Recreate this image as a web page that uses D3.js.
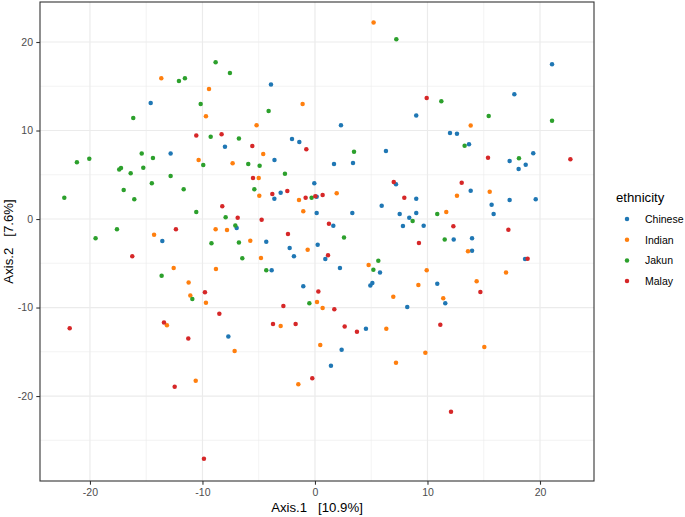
<!DOCTYPE html>
<html>
<head>
  <meta charset="utf-8">
  <title>PCoA ethnicity</title>
  <script src="https://cdn.jsdelivr.net/npm/d3@7/dist/d3.min.js"></script>
  <style>
    body { margin: 0; background: #fff; }
    text { font-family: "Liberation Sans", Arial, sans-serif; white-space: pre; }
  </style>
</head>
<body>
  <svg id="chart" width="685" height="517"></svg>
  <script>
    // points: [Axis.1, Axis.2]
    const chinese = [
      [-14.6, 13.1], [-12.83, 7.4], [-13.57, -2.49], [-3.91, 15.2], [2.31, 10.6], [-8.0, 8.17],
      [-2.04, 9.04], [-1.39, 8.7], [-3.6, 6.67], [6.31, 7.68], [1.69, 6.21], [3.38, 6.33],
      [-0.06, 4.03], [-3.05, 2.97], [-3.61, 2.3], [0.15, 2.52], [7.2, 3.92], [0.15, 0.68],
      [3.32, 0.68], [5.93, 1.5], [7.53, 0.56], [-6.96, -1.02], [1.63, -0.75], [-4.33, -2.56],
      [-2.25, -3.28], [0.24, -2.9], [-1.87, -4.22], [0.92, -4.52], [-3.85, -5.8], [2.22, -5.54],
      [5.78, -6.03], [4.92, -7.5], [5.1, -7.23], [-1.04, -7.6], [4.53, -12.4], [-7.7, -13.26],
      [2.37, -14.77], [1.42, -16.57], [17.3, 6.55], [18.73, 6.14], [18.1, 5.65], [13.84, 3.2],
      [9.0, 2.3], [15.7, 1.62], [17.3, 2.15], [19.62, 2.22], [9.0, 0.68], [8.38, 0.15],
      [15.88, 0.56], [7.82, -0.79], [9.66, -0.75], [12.33, -2.3], [13.96, -2.18], [13.96, -3.58],
      [18.67, -4.52], [10.87, -7.31], [11.58, -9.53], [8.2, -9.94], [21.07, 17.5], [17.72, 14.09],
      [9.0, 11.71], [12.0, 9.72], [12.62, 9.64], [13.69, 8.44], [19.4, 7.42]
    ];
    const indian = [
      [-13.66, 15.9], [-9.42, 14.7], [-9.69, 11.6], [-10.34, 6.67], [-14.3, -1.77], [-8.83, -1.17],
      [-12.56, -5.54], [-8.8, -5.65], [-11.23, -7.16], [-11.08, -8.63], [-9.69, -9.45], [-13.16, -12.0],
      [-10.6, -18.27], [5.21, 22.2], [-1.1, 13.0], [-5.19, 10.6], [-4.6, 7.34], [-7.32, 6.29],
      [-5.0, 4.63], [-4.95, 2.64], [-1.42, 2.15], [1.93, 2.9], [-1.04, 0.87], [-7.82, -1.24],
      [-5.75, -2.45], [-0.65, -3.46], [-4.8, -4.4], [4.77, -5.2], [6.96, -8.77], [0.18, -9.38],
      [0.68, -10.06], [-3.05, -12.1], [6.34, -12.4], [-7.14, -14.9], [0.47, -14.24], [7.2, -16.23],
      [-1.48, -18.68], [9.81, -15.1], [15.05, -14.46], [12.62, 2.64], [15.53, 3.09], [11.67, 0.79],
      [13.6, -3.65], [9.93, -5.8], [16.98, -6.03], [9.19, -7.46], [14.37, -7.04], [11.4, -8.96],
      [13.84, 10.58]
    ];
    const jakun = [
      [-8.83, 17.7], [-12.09, 15.6], [-11.56, 15.9], [-10.16, 13.0], [-16.15, 11.4], [-9.27, 9.3],
      [-15.4, 7.4], [-14.4, 6.9], [-20.06, 6.8], [-21.16, 6.4], [-9.93, 6.1], [-17.4, 5.6],
      [-17.24, 5.76], [-15.26, 5.8], [-16.38, 5.16], [-12.83, 4.86], [-14.5, 4.03], [-17.0, 3.28],
      [-11.67, 3.35], [-22.28, 2.41], [-16.06, 2.22], [-10.55, 0.79], [-17.6, -1.17], [-19.5, -2.18],
      [-9.2, -2.75], [-13.63, -6.4], [-10.9, -9.04], [7.23, 20.3], [-7.56, 16.5], [-4.12, 12.2],
      [-6.76, 9.1], [-5.93, 6.21], [-4.92, 6.02], [3.47, 7.6], [-2.67, 5.12], [-5.39, 3.35],
      [-0.3, 2.41], [-7.94, 0.19], [-7.08, -0.72], [2.58, -2.1], [-6.76, -2.64], [-6.46, -4.44],
      [-4.33, -5.8], [5.63, -4.71], [5.19, -5.73], [-0.5, -9.53], [8.68, -0.23], [10.87, 0.56],
      [11.53, -2.3], [11.23, 13.3], [15.44, 11.64], [21.07, 11.1], [13.3, 8.28], [18.13, 6.86]
    ];
    const malay = [
      [-10.55, 9.45], [-12.36, -1.17], [-16.24, -4.22], [-9.78, -8.28], [-8.5, -10.7], [-21.8, -12.35],
      [-13.42, -11.68], [-11.26, -13.5], [-12.47, -18.95], [-9.87, -27.1], [-8.3, 9.57], [-5.57, 8.25],
      [-0.77, 7.87], [-5.51, 4.63], [-3.79, 2.82], [-2.46, 3.16], [-0.83, 2.41], [0.03, 2.56],
      [0.68, 2.71], [7.0, 4.18], [-8.24, 1.43], [-6.87, 0.15], [-4.74, -0.08], [1.24, -0.53],
      [-2.4, -1.69], [1.16, -4.1], [0.3, -8.2], [-2.81, -9.83], [1.72, -10.2], [-3.73, -11.86],
      [-1.72, -11.86], [2.64, -12.13], [3.73, -12.73], [-0.24, -18.0], [11.14, -11.94], [12.09, -21.77],
      [13.04, 4.1], [7.94, 2.41], [12.3, -0.83], [17.19, -1.2], [9.24, -2.71], [18.9, -4.48],
      [14.7, -8.25], [9.93, 13.67], [15.38, 6.93], [22.7, 6.74]
    ];

    const groups = ['Chinese', 'Indian', 'Jakun', 'Malay'];
    const groupData = [chinese, indian, jakun, malay];
    const colors = ['#1f77b4', '#ff7f0e', '#2ca02c', '#d62728'];
    const xTicks = [-20, -10, 0, 10, 20];
    const yTicks = [-20, -10, 0, 10, 20];
    const xMinor = [-15, -5, 5, 15];
    const yMinor = [-25, -15, -5, 5, 15];

    const svg = d3.select('#chart');
    const pLeft = 40, pRight = 594, pTop = 2, pBottom = 481;

    const x = d3.scaleLinear().domain([-24.44, 24.8]).range([pLeft, pRight]);
    const y = d3.scaleLinear().domain([-29.6, 24.52]).range([pBottom, pTop]);
    const color = d3.scaleOrdinal().domain(groups).range(colors);

    // gridlines
    const grid = svg.append('g');
    grid.selectAll('.xminor').data(xMinor).enter().append('line')
      .attr('x1', d => x(d)).attr('x2', d => x(d)).attr('y1', pTop).attr('y2', pBottom)
      .attr('stroke', '#ebebeb').attr('stroke-width', 0.6);
    grid.selectAll('.yminor').data(yMinor).enter().append('line')
      .attr('y1', d => y(d)).attr('y2', d => y(d)).attr('x1', pLeft).attr('x2', pRight)
      .attr('stroke', '#ebebeb').attr('stroke-width', 0.6);
    grid.selectAll('.xmajor').data(xTicks).enter().append('line')
      .attr('x1', d => x(d)).attr('x2', d => x(d)).attr('y1', pTop).attr('y2', pBottom)
      .attr('stroke', '#ebebeb').attr('stroke-width', 1.2);
    grid.selectAll('.ymajor').data(yTicks).enter().append('line')
      .attr('y1', d => y(d)).attr('y2', d => y(d)).attr('x1', pLeft).attr('x2', pRight)
      .attr('stroke', '#ebebeb').attr('stroke-width', 1.2);

    // points
    groupData.forEach(function (pts, i) {
      svg.append('g').selectAll('circle').data(pts).enter().append('circle')
        .attr('cx', d => x(d[0]))
        .attr('cy', d => y(d[1]))
        .attr('r', 2.25)
        .attr('fill', color(groups[i]));
    });

    // panel border
    svg.append('rect')
      .attr('x', pLeft).attr('y', pTop)
      .attr('width', pRight - pLeft).attr('height', pBottom - pTop)
      .attr('fill', 'none').attr('stroke', '#333333').attr('stroke-width', 1.1);

    // axes
    const xAxis = svg.append('g').attr('transform', `translate(0,${pBottom})`)
      .call(d3.axisBottom(x).tickValues(xTicks).tickSize(3.7).tickPadding(4.3));
    const yAxis = svg.append('g').attr('transform', `translate(${pLeft},0)`)
      .call(d3.axisLeft(y).tickValues(yTicks).tickSize(3.7).tickPadding(3.3));
    [xAxis, yAxis].forEach(function (a) {
      a.select('.domain').remove();
      a.selectAll('line').attr('stroke', '#333333').attr('stroke-width', 1.1);
      a.selectAll('text').attr('fill', '#4d4d4d').style('font-size', '10.5px')
        .style('font-family', '"Liberation Sans", Arial, sans-serif')
        .text(d => String(d)); // ggplot uses a plain hyphen
    });

    // axis titles
    svg.append('text')
      .attr('x', (pLeft + pRight) / 2).attr('y', 512)
      .attr('text-anchor', 'middle').style('font-size', '13.2px')
      .text('Axis.1   [10.9%]');
    svg.append('text')
      .attr('transform', `translate(12.5,${(pTop + pBottom) / 2}) rotate(-90)`)
      .attr('text-anchor', 'middle').style('font-size', '13.2px')
      .text('Axis.2   [7.6%]');

    // legend
    const legend = svg.append('g').attr('transform', 'translate(616,0)');
    legend.append('text').attr('x', 0).attr('y', 202).style('font-size', '13.2px').text('ethnicity');
    groups.forEach(function (g, i) {
      const cy = 219 + i * 20.7;
      legend.append('circle').attr('cx', 11).attr('cy', cy).attr('r', 2.25).attr('fill', color(g));
      legend.append('text').attr('x', 29).attr('y', cy + 3.8).style('font-size', '10.5px').text(g);
    });
  </script>
</body>
</html>
